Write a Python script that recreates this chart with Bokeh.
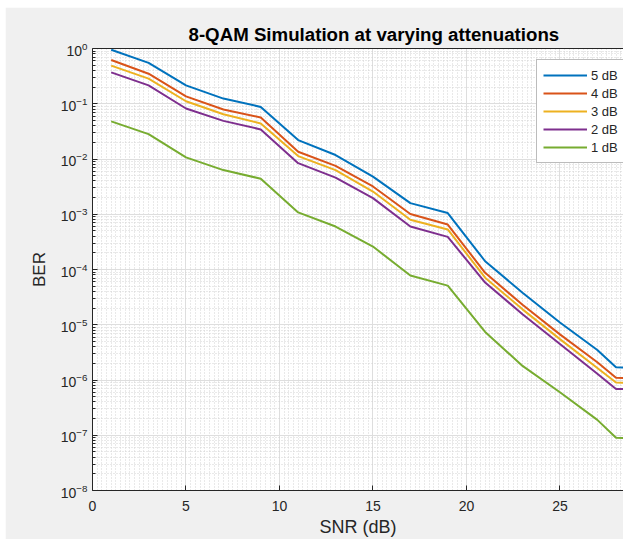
from bokeh.plotting import figure
from bokeh.models import (LinearAxis, Legend, LegendItem, Range1d, FixedTicker,
                          SingleIntervalTicker)
from bokeh.embed import file_html
from bokeh.resources import INLINE

# ---- data ----
snr = [1, 3, 5, 7, 9, 11, 13, 15, 17, 19, 21, 23, 25, 27, 28, 30]
ber_5db = [0.95, 0.55, 0.215, 0.124, 0.0877, 0.022, 0.0118, 0.0048, 0.00159, 0.00105,
           1.41e-4, 3.8e-5, 1.1e-5, 3.5e-6, 1.7e-6, 1.65e-6]
ber_4db = [0.62, 0.35, 0.136, 0.0786, 0.0564, 0.0135, 0.0075, 0.00318, 0.00101, 6.5e-4,
           8.7e-5, 2.3e-5, 6.7e-6, 2.1e-6, 1.1e-6, 1.05e-6]
ber_3db = [0.49, 0.285, 0.111, 0.0647, 0.044, 0.0113, 0.0063, 0.00258, 7.96e-4, 5.3e-4,
           7.1e-5, 1.9e-5, 5.5e-6, 1.65e-6, 9.0e-7, 8.7e-7]
ber_2db = [0.37, 0.215, 0.082, 0.049, 0.0343, 0.0084, 0.0046, 1.96e-3, 6.0e-4, 3.9e-4,
           5.8e-5, 1.55e-5, 4.5e-6, 1.3e-6, 6.9e-7, 6.7e-7]
ber_1db = [0.048, 0.0282, 0.0107, 0.0063, 0.0044, 0.00108, 6.0e-4, 2.6e-4, 7.8e-5, 5.1e-5,
           7.4e-6, 1.8e-6, 6.0e-7, 1.9e-7, 9.0e-8, 8.5e-8]
series_labels = ["5 dB", "4 dB", "3 dB", "2 dB", "1 dB"]
series_colors = ["#0072BD", "#D95319", "#EDB120", "#7E2F8E", "#77AC30"]
y_major = [10.0 ** e for e in range(-8, 1)]
y_minor = [k * 10.0 ** e for e in range(-8, 0) for k in range(2, 10)]

FONT = "Liberation Sans"
AX = "#262626"

p = figure(width=618, height=532, x_range=Range1d(0, 28.4), y_range=Range1d(1e-8, 1),
           y_axis_type="log", output_backend="svg", toolbar_location=None,
           background_fill_color="white", border_fill_color="#f0f0f0",
           min_border_left=87, min_border_right=0, min_border_top=41, min_border_bottom=47,
           outline_line_color=None)
p.margin = (7, 0, 0, 5)

p.title.text = "8-QAM Simulation at varying attenuations"
p.title.align = "left"
p.title.offset = 96
p.title.text_font = FONT
p.title.text_font_size = "18.7px"
p.title.text_font_style = "bold"
p.title.text_color = "black"
p.title.standoff = 7

xt = SingleIntervalTicker(interval=5, num_minor_ticks=20)
yt = FixedTicker(ticks=y_major, minor_ticks=y_minor)

xa = p.xaxis[0]
xa.ticker = xt
xa.axis_label = "SNR (dB)"
ya = p.yaxis[0]
ya.ticker = yt
ya.axis_label = "BER"

for ax in (xa, ya):
    ax.axis_line_color = AX
    ax.axis_line_width = 1
    ax.major_tick_in = 5
    ax.major_tick_out = 0
    ax.major_tick_line_color = AX
    ax.major_label_text_font = FONT
    ax.major_label_text_font_size = "14px"
    ax.major_label_text_color = AX
    ax.axis_label_text_font = FONT
    ax.axis_label_text_font_size = "17px"
    ax.axis_label_text_font_style = "normal"
    ax.axis_label_text_color = AX
xa.axis_label_text_font_size = "18px"
xa.minor_tick_line_color = None
xa.major_label_standoff = 6
xa.axis_label_standoff = 3
ya.minor_tick_in = 3
ya.minor_tick_out = 0
ya.minor_tick_line_color = AX
ya.major_label_standoff = 5
ya.axis_label_standoff = 9

top = LinearAxis(ticker=FixedTicker(ticks=[]), axis_line_color=AX,
                 major_tick_line_color=None, minor_tick_line_color=None)
p.add_layout(top, "above")

for g in (p.xgrid[0], p.ygrid[0]):
    g.grid_line_color = "#dedede"
    g.grid_line_width = 1
    g.minor_grid_line_color = "#d2d2d2"
    g.minor_grid_line_dash = "1 2"
    g.minor_grid_line_width = 1
p.xgrid[0].ticker = xt
p.ygrid[0].ticker = yt

renderers = []
for ys, c in zip([ber_5db, ber_4db, ber_3db, ber_2db, ber_1db], series_colors):
    renderers.append(p.line(snr, ys, line_color=c, line_width=2))

legend = Legend(items=[LegendItem(label=l, renderers=[r]) for l, r in zip(series_labels, renderers)],
                location=(444, 327), glyph_width=44, glyph_height=18, label_height=18,
                spacing=0, padding=6, margin=0, label_standoff=4,
                label_text_font=FONT, label_text_font_size="13px", label_text_color=AX,
                border_line_color="#7a7a7a", border_line_width=1.5,
                background_fill_color="white", background_fill_alpha=1)
p.add_layout(legend)

open("out.html", "w").write(file_html(p, INLINE))
